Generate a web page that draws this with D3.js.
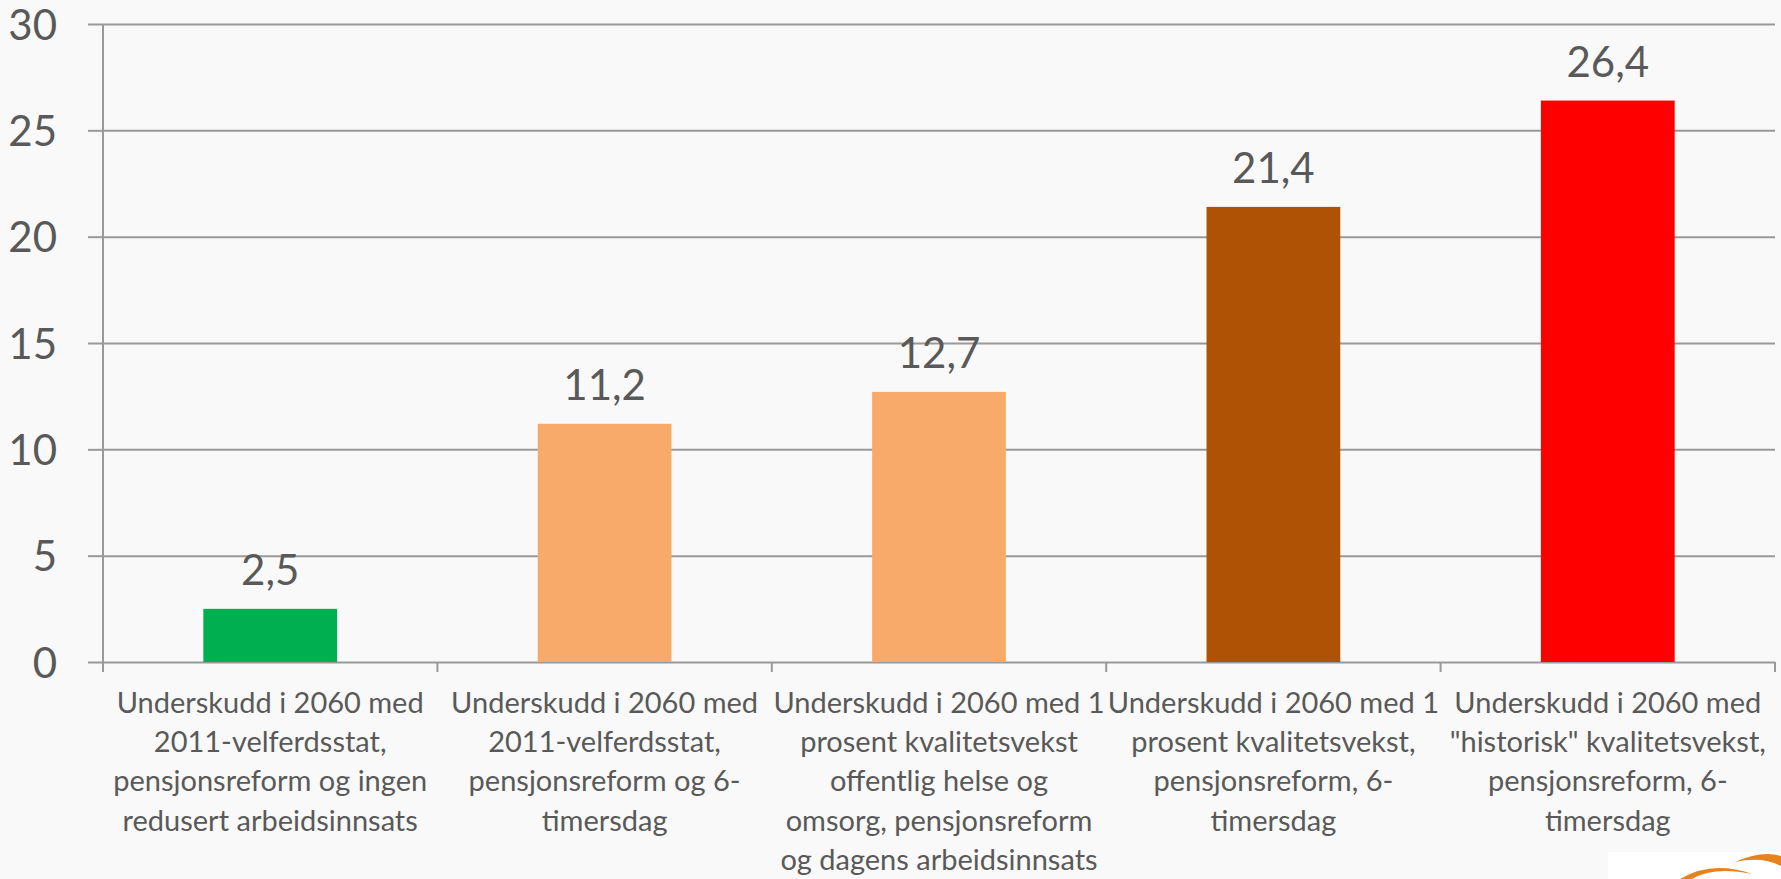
<!DOCTYPE html>
<html>
<head>
<meta charset="utf-8">
<script src="https://cdn.jsdelivr.net/npm/d3@7"></script>
<style>
  html, body { margin: 0; padding: 0; background: #f9f9f9; }
  svg { display: block; }
</style>
</head>
<body>
<svg id="chart" width="1781" height="879"></svg>
<script>
// data
const categories = [
  ["Underskudd i 2060 med", "2011-velferdsstat,", "pensjonsreform og ingen", "redusert arbeidsinnsats"],
  ["Underskudd i 2060 med", "2011-velferdsstat,", "pensjonsreform og 6-", "timersdag"],
  ["Underskudd i 2060 med 1", "prosent kvalitetsvekst", "offentlig helse og", "omsorg, pensjonsreform", "og dagens arbeidsinnsats"],
  ["Underskudd i 2060 med 1", "prosent kvalitetsvekst,", "pensjonsreform, 6-", "timersdag"],
  ["Underskudd i 2060 med", "\"historisk\" kvalitetsvekst,", "pensjonsreform, 6-", "timersdag"]
];
const values = [2.5, 11.2, 12.7, 21.4, 26.4];
const barColors = ["#00b050", "#f8aa6a", "#f8aa6a", "#b05206", "#ff0000"];
const yTicks = [0, 5, 10, 15, 20, 25, 30];

const svg = d3.select("#chart");
const margin = { top: 24, right: 6, bottom: 217, left: 103 };
const width = +svg.attr("width"),
  height = +svg.attr("height");

const x = d3.scaleBand()
  .domain(d3.range(values.length))
  .range([margin.left, width - margin.right])
  .paddingInner(0.6)
  .paddingOuter(0.3);

const y = d3.scaleLinear()
  .domain([0, 30])
  .range([height - margin.bottom, margin.top]);

const textColor = "#595959";
const lineColor = "#999999";
const font = "Lato, 'Open Sans', sans-serif";

// gridlines + y labels
const yAxis = svg.append("g")
  .attr("transform", "translate(" + margin.left + ",0)")
  .call(d3.axisLeft(y).tickValues(yTicks).tickSize(15).tickPadding(31)
    .tickFormat(d3.format("d")));
yAxis.select(".domain").remove();
yAxis.selectAll(".tick line").attr("stroke", lineColor).attr("stroke-width", 2)
  .attr("x2", -15)
  .clone()
  .attr("x1", 0)
  .attr("x2", width - margin.right - margin.left);
yAxis.selectAll(".tick text")
  .attr("fill", textColor)
  .attr("font-family", font)
  .attr("font-size", 42)
  .attr("dy", "0.36em");

// y axis line
svg.append("line")
  .attr("x1", margin.left).attr("x2", margin.left)
  .attr("y1", y(30)).attr("y2", y(0))
  .attr("stroke", lineColor).attr("stroke-width", 2);

// category ticks on x axis
const step = x.step();
svg.append("g").selectAll("line")
  .data(d3.range(values.length + 1))
  .enter()
  .append("line")
  .attr("x1", (i) => margin.left + i * step)
  .attr("x2", (i) => margin.left + i * step)
  .attr("y1", y(0))
  .attr("y2", y(0) + 10)
  .attr("stroke", lineColor)
  .attr("stroke-width", 2);

// bars
svg.append("g").selectAll("rect")
  .data(values)
  .enter()
  .append("rect")
  .attr("x", (d, i) => x(i))
  .attr("y", (d) => y(d))
  .attr("width", x.bandwidth())
  .attr("height", (d) => y(0) - y(d))
  .attr("fill", (d, i) => barColors[i]);

// value labels
svg.append("g").selectAll("text")
  .data(values)
  .enter()
  .append("text")
  .attr("x", (d, i) => x(i) + x.bandwidth() / 2)
  .attr("y", (d) => y(d) - 24)
  .attr("text-anchor", "middle")
  .attr("fill", textColor)
  .attr("font-family", font)
  .attr("font-size", 42)
  .text((d) => String(d).replace(".", ","));

// category labels
const cat = svg.append("g").selectAll("text")
  .data(categories)
  .enter()
  .append("text")
  .attr("text-anchor", "middle")
  .attr("fill", textColor)
  .attr("font-family", font)
  .attr("font-size", 29);
cat.selectAll("tspan")
  .data((d, i) => d.map((line) => ({ line, i })))
  .enter()
  .append("tspan")
  .attr("x", (d) => x(d.i) + x.bandwidth() / 2)
  .attr("y", (d, j) => y(0) + 51 + j * 39.2)
  .text((d) => d.line);

// logo corner (bottom right)
const logo = svg.append("g");
logo.append("rect")
  .attr("x", 1608).attr("y", 852).attr("width", 173).attr("height", 27)
  .attr("fill", "#ffffff");
logo.append("path")
  .attr("d", "M1680,879 Q1712,860 1752,874 Q1714,866 1692,879 Z")
  .attr("fill", "#e8821e");
logo.append("path")
  .attr("d", "M1735,862 Q1762,850 1781,856 L1781,866 Q1762,856 1735,862 Z")
  .attr("fill", "#e8821e");
</script>
</body>
</html>
